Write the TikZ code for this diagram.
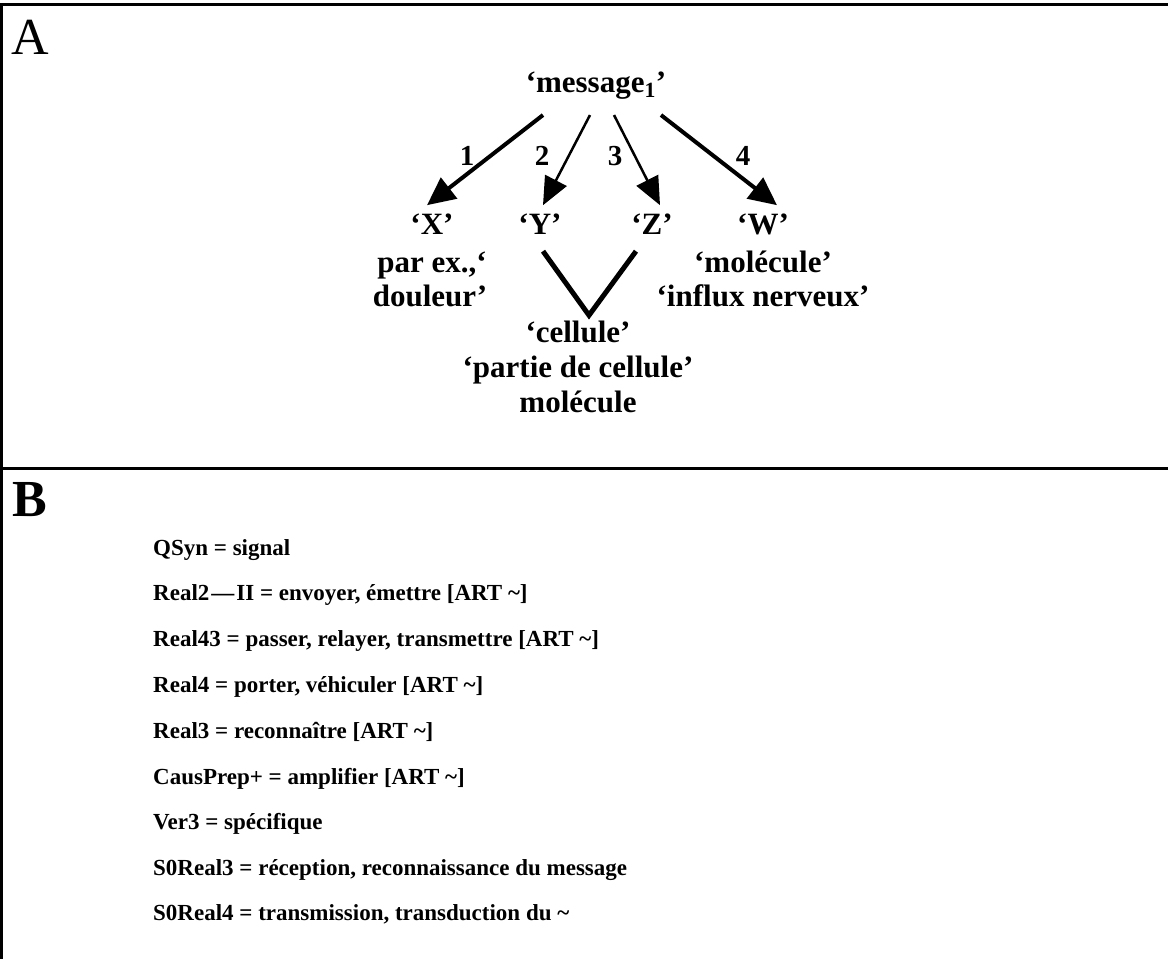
\documentclass[tikz,border=0pt]{standalone}
\usepackage{fontspec}
\setmainfont{Liberation Serif}
\usetikzlibrary{arrows.meta}
\tikzstyle{frame}=[line width=3pt]
\tikzstyle{term}=[font=\fontsize{31}{35}\selectfont\bfseries, inner sep=1pt, anchor=base]
\tikzstyle{num}=[font=\fontsize{29}{34}\selectfont\bfseries, inner sep=0pt, anchor=base]
\tikzstyle{fn}=[font=\fontsize{23}{28}\selectfont\bfseries, inner sep=0pt, anchor=base west]
\tikzstyle{heavyarr}=[line width=4pt, -{Triangle[length=28pt, width=26pt]}]
\tikzstyle{lightarr}=[line width=2.5pt, -{Triangle[length=28pt, width=24pt]}]

\begin{document}
\begin{tikzpicture}[x=1pt, y=-1pt]
        \useasboundingbox (0,0) rectangle (1168,959);
        % frame of the two panels
        \draw[frame] (0,4.5) -- (1168,4.5);
        \draw[frame] (1.2,3) -- (1.2,959);
        \draw[frame] (0,468.5) -- (1168,468.5);
        \node[font=\fontsize{52}{52}\selectfont, inner sep=0pt, anchor=base] (A) at (30,54) {A};
        \node[font=\fontsize{52}{52}\selectfont\bfseries, inner sep=0pt, anchor=base] (B) at (30,516) {B};

        % panel A
        \node[term] (msg) at (596,92) {‘message\textsubscript{1}’};
        \node[term] (X) at (432,234) {‘X’};
        \node[term] (Y) at (540,234) {‘Y’};
        \node[term] (Z) at (652,234) {‘Z’};
        \node[term] (W) at (763,234) {‘W’};
        \node[num] (n1) at (467,165) {1};
        \node[num] (n2) at (542,165) {2};
        \node[num] (n3) at (615,165) {3};
        \node[num] (n4) at (743,165) {4};
        \draw[heavyarr] ([xshift=-53pt, yshift=-15pt]msg.south) -- ([xshift=-5pt, yshift=7pt]X.north);
        \draw[lightarr] ([xshift=-6pt, yshift=-15pt]msg.south) -- ([xshift=3pt, yshift=7pt]Y.north);
        \draw[lightarr] ([xshift=18pt, yshift=-15pt]msg.south) -- ([xshift=8pt, yshift=7pt]Z.north);
        \draw[heavyarr] ([xshift=65pt, yshift=-15pt]msg.south) -- ([xshift=14pt, yshift=7pt]W.north);
        \node[term] (parex) at (432,272) {par ex.,‘};
        \node[term] (douleur) at (430,306) {douleur’};
        \node[term] (molW) at (763,272) {‘molécule’};
        \node[term] (influx) at (763,306) {‘influx nerveux’};
        \node[term] (cel) at (578,342) {‘cellule’};
        \node[term] (partie) at (578,377) {‘partie de cellule’};
        \node[term] (molcel) at (578,412) {molécule};
        \draw[line width=5pt] ([xshift=3pt, yshift=-16pt]Y.south) -- ([xshift=11pt, yshift=4pt]cel.north) -- ([xshift=-16pt, yshift=-16pt]Z.south);

        % panel B
        \node[fn] (qsyn) at (153,555) {QSyn = signal};
        \node[fn] (realii) at (153,600) {Real2\kern2pt—\kern2pt II = envoyer, émettre [ART \textasciitilde]};
        \node[fn] (realfourthree) at (153,646) {Real43 = passer, relayer, transmettre [ART \textasciitilde]};
        \node[fn] (realfour) at (153,692) {Real4 = porter, véhiculer [ART \textasciitilde]};
        \node[fn] (realthree) at (153,738) {Real3 = reconnaître [ART \textasciitilde]};
        \node[fn] (causprep) at (153,784) {CausPrep+ = amplifier [ART \textasciitilde]};
        \node[fn] (verthree) at (153,829) {Ver3 = spécifique};
        \node[fn] (sorealthree) at (153,875) {S0Real3 = réception, reconnaissance du message};
        \node[fn] (sorealfour) at (153,920) {S0Real4 = transmission, transduction du \textasciitilde};
    \end{tikzpicture}
\end{document}
